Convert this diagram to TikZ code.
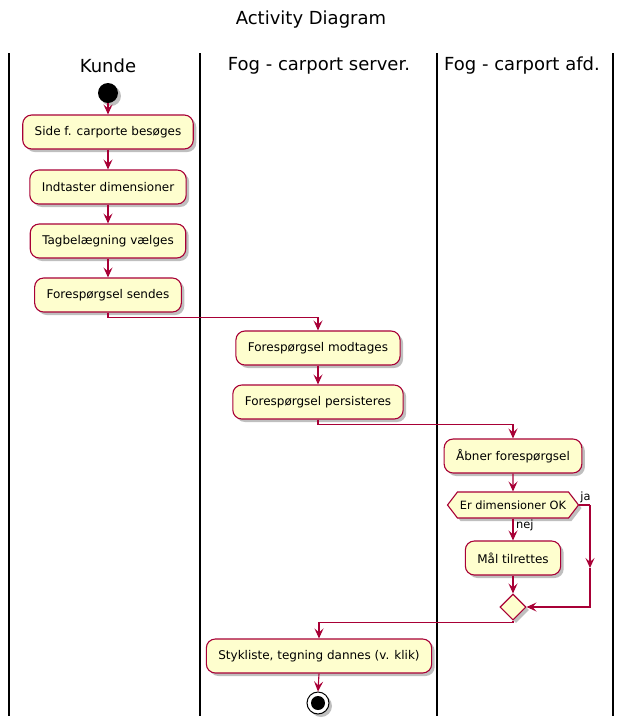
\documentclass[tikz,border=0pt]{standalone}
\usepackage{fontspec}
\setmainfont{DejaVu Sans}
\usetikzlibrary{shapes.geometric,shapes.symbols,shadows,arrows.meta}
\definecolor{puBorder}{HTML}{A80036}
\definecolor{puFill}{HTML}{FEFECE}
\tikzset{
  shad/.style={drop shadow={shadow xshift=3pt,shadow yshift=-3pt,fill=black,opacity=0.25}},
  act/.style={draw=puBorder,fill=puFill,line width=1.1pt,rounded corners=9pt,minimum height=34pt,inner xsep=12pt,font=\fontsize{12}{14}\selectfont,shad},
  flow/.style={draw=puBorder,line width=1.1pt,-{Stealth[length=10pt,width=9pt,inset=4pt]}},
  plain/.style={draw=puBorder,line width=1.1pt},
  lane/.style={draw=black,line width=1.6pt},
  lanehead/.style={font=\fontsize{18}{20}\selectfont},
  lbl/.style={font=\fontsize{11.4}{13}\selectfont,inner sep=1pt}
}
\begin{document}
\begin{tikzpicture}[x=1pt,y=-1pt]
\useasboundingbox (0,0) rectangle (624,724);
\node (title) at (311,20) {\fontsize{18}{20}\selectfont Activity Diagram};
% lanes
\draw[lane] (9,53) -- (9,716);
\draw[lane] (200,53) -- (200,716);
\draw[lane] (437,53) -- (437,716);
\draw[lane] (613,53) -- (613,716);
\node[lanehead] (h1) at (108,66) {Kunde};
\node[lanehead] (h2) at (319,66) {Fog - carport server.};
\node[lanehead] (h3) at (522,66) {Fog - carport afd.};
% start
\node[circle,fill=black,minimum size=20pt,inner sep=0pt,shad] (start) at (108,93) {};
\node[act] (b1) at (108,132) {Side f. carporte besøges};
\node[act] (b2) at (108,187) {Indtaster dimensioner};
\node[act] (b3) at (108,241) {Tagbelægning vælges};
\node[act] (b4) at (108,295) {Forespørgsel sendes};
\node[act] (b5) at (318,348) {Forespørgsel modtages};
\node[act] (b6) at (318,402) {Forespørgsel persisteres};
\node[act] (b7) at (513,456) {Åbner forespørgsel};
\node[draw=puBorder,fill=puFill,line width=1.1pt,shape=signal,signal to=east and west,signal pointer angle=105,minimum height=26pt,minimum width=131pt,inner xsep=2pt,inner ysep=0pt,font=\fontsize{11.4}{13}\selectfont,shad] (hex) at (513,505) {Er dimensioner OK};
\node[act] (b8) at (513,558) {Mål tilrettes};
\node[diamond,draw=puBorder,fill=puFill,line width=1.1pt,minimum width=26pt,minimum height=26pt,inner sep=0pt,shad] (merge) at (513,607) {};
\node[act] (b9) at (319,656) {Stykliste, tegning dannes (v. klik)};
\node[circle,draw=black,fill=white,line width=1pt,minimum size=22pt,inner sep=0pt,shad] (endo) at (318,703) {};
\node[circle,fill=black,minimum size=14pt,inner sep=0pt] (endi) at (endo) {};
% flows
\draw[flow] (start) -- (b1);
\draw[flow] (b1) -- (b2);
\draw[flow] (b2) -- (b3);
\draw[flow] (b3) -- (b4);
\draw[flow] (b4.south) -- ++(0,5) -| (b5.north);
\draw[flow] (b5) -- (b6);
\draw[flow] (b6.south) -- ++(0,5) -| (b7.north);
\draw[flow] (b7) -- (hex);
\draw[flow] (hex.south) -- (b8.north);
\node[lbl,anchor=north west] (nej) at ([xshift=2pt]hex.south) {nej};
\coordinate (jr) at (590,505);
\coordinate (jm) at (590,568);
\coordinate (jb) at (590,607);
\draw[plain] (hex.east) -- (jr);
\draw[flow] (jr) -- (jm);
\draw[flow] (jm) -- (jb) -- (merge.east);
\node[lbl,anchor=south west] (ja) at ([xshift=0pt,yshift=1pt]hex.east) {ja};
\draw[flow] (b8.south) -- (merge.north);
\draw[flow] (merge.south) -- ++(0,2) -| (b9.north);
\draw[flow] (b9.south) -- (endo.north);
\end{tikzpicture}
\end{document}
